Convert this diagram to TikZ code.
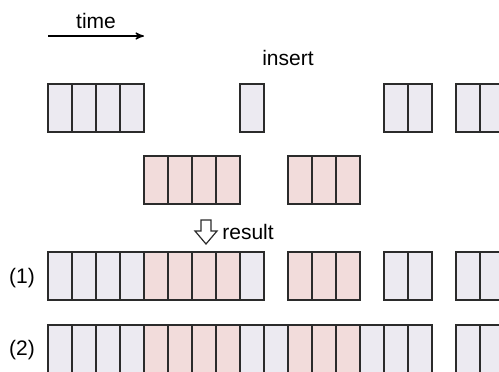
\documentclass[tikz,border=0pt]{standalone}
\usepackage{fontspec}
\setmainfont{Liberation Sans}
\usetikzlibrary{arrows,positioning}

\definecolor{oldcell}{HTML}{ECEAF1}
\definecolor{newcell}{HTML}{F2DCDB}
\definecolor{cellline}{HTML}{2B2B2B}

\begin{document}
\begin{tikzpicture}[x=0.5pt, y=-0.5pt, >=stealth', font=\fontsize{10.5}{12}\selectfont,
    cell/.style={draw=cellline, line width=0.6pt, minimum width=12pt, minimum height=24pt,
                 inner sep=0pt, outer sep=0pt, anchor=north west}]
    \useasboundingbox (0,0) rectangle (499,371);

    % time axis
    \node (time) at (96,21) {time};
    \coordinate (t0) at (48,36);
    \coordinate (t1) at (144,36);
    \draw[->, line width=0.6pt] (t0) -- (t1);

    % original blocks
    \foreach \x [count=\i] in {48,72,96,120,240,384,408,456,480}
        \node[cell, fill=oldcell] (old\i) at (\x,84) {};

    % inserted blocks
    \node (insert) at (288,58) {insert};
    \foreach \x [count=\i] in {144,168,192,216,288,312,336}
        \node[cell, fill=newcell] (ins\i) at (\x,156) {};

    % result
    \draw[fill=white, draw=cellline, line width=0.6pt] (201,220) -- (211,220) -- (211,231) -- (217,231)
        -- (206,244) -- (195,231) -- (201,231) -- cycle;
    \node[anchor=west, inner sep=0pt] (result) at (222,232) {result};

    \node (one) at (22,278) {(1)};
    \foreach \x/\c [count=\i] in {48/oldcell,72/oldcell,96/oldcell,120/oldcell,
                                  144/newcell,168/newcell,192/newcell,216/newcell,240/oldcell,
                                  288/newcell,312/newcell,336/newcell,
                                  384/oldcell,408/oldcell,456/oldcell,480/oldcell}
        \node[cell, fill=\c] (ra\i) at (\x,252) {};

    \node (two) at (22,350) {(2)};
    \foreach \x/\c [count=\i] in {48/oldcell,72/oldcell,96/oldcell,120/oldcell,
                                  144/newcell,168/newcell,192/newcell,216/newcell,240/oldcell,264/oldcell,
                                  288/newcell,312/newcell,336/newcell,
                                  360/oldcell,384/oldcell,408/oldcell,456/oldcell,480/oldcell}
        \node[cell, fill=\c] (rb\i) at (\x,325) {};
\end{tikzpicture}
\end{document}
